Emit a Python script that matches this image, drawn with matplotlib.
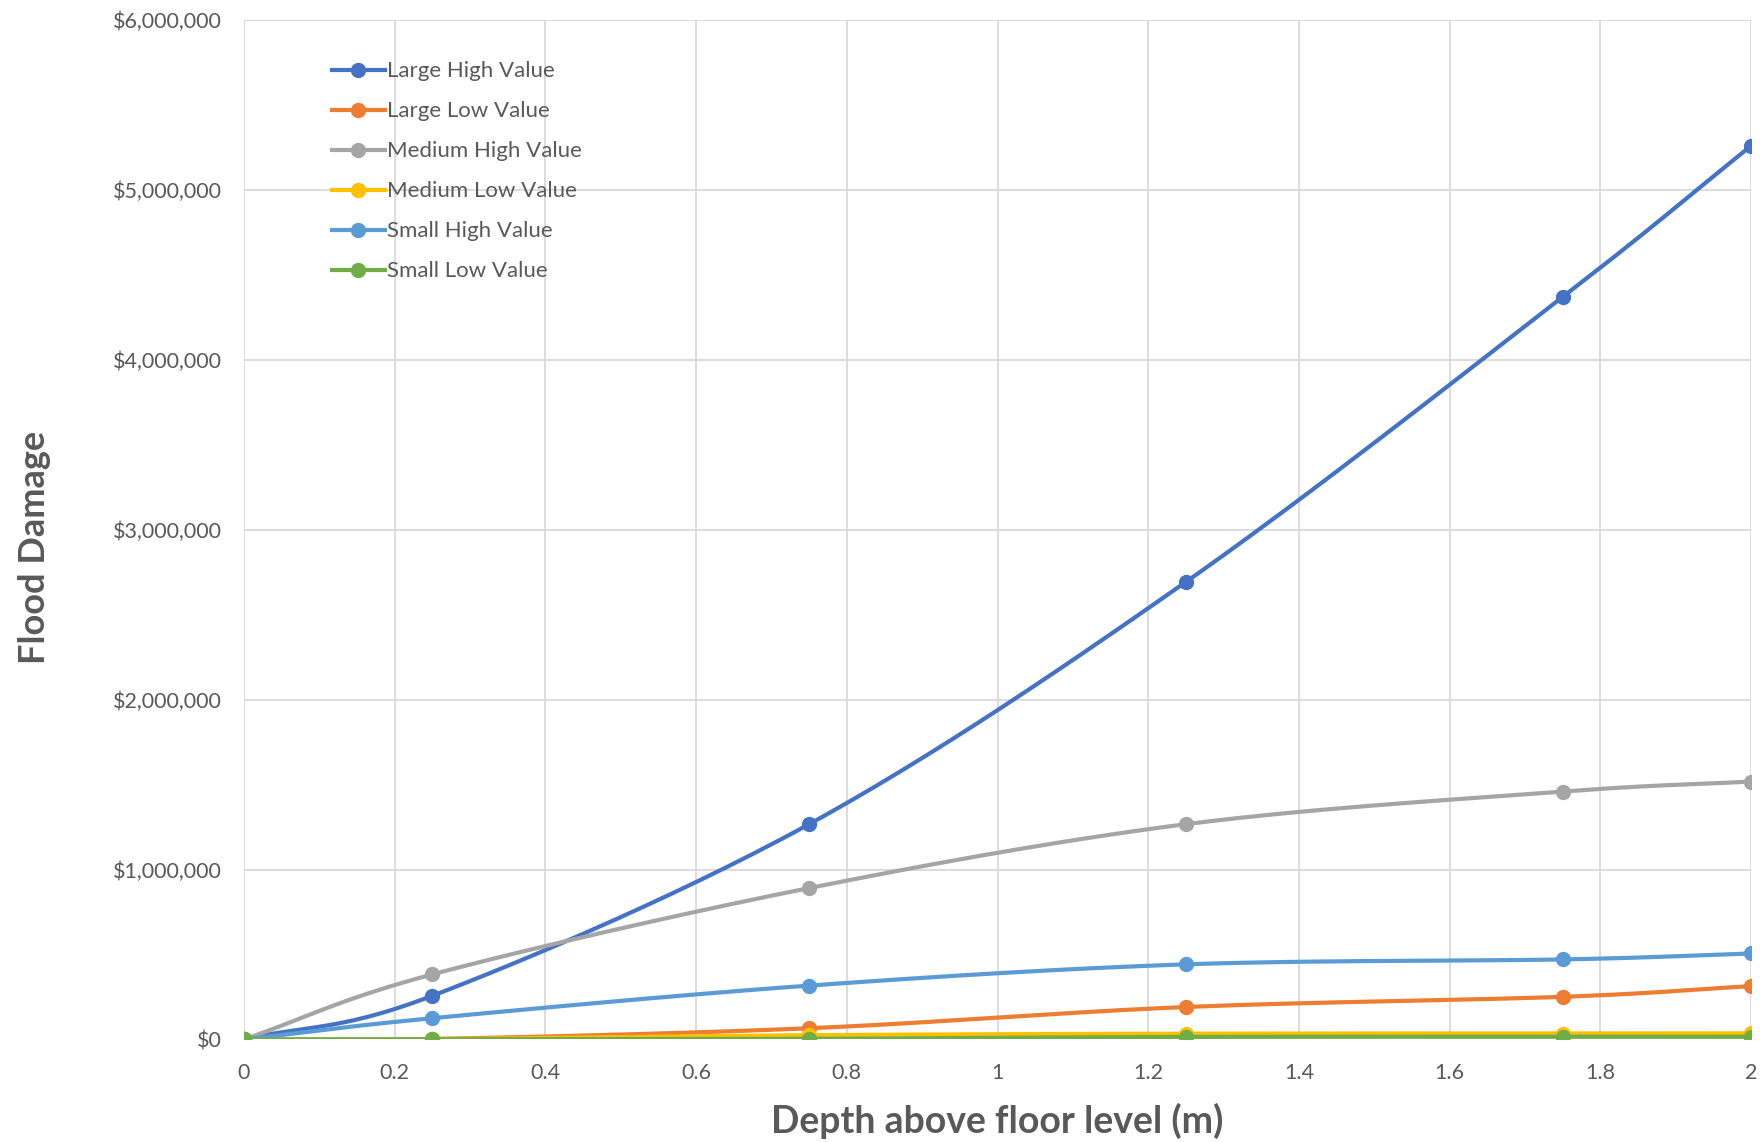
import numpy as np
import matplotlib
matplotlib.use("Agg")
import matplotlib.pyplot as plt
from matplotlib.ticker import FuncFormatter, MultipleLocator

# depths (m) and damages ($)
depth = [0, 0.25, 0.75, 1.25, 1.75, 2.0]
large_high = [0, 257000, 1267000, 2693000, 4370000, 5260000]
large_low = [0, 3000, 66000, 191000, 251000, 314000]
medium_high = [0, 383000, 891000, 1267000, 1459000, 1518000]
medium_low = [0, 2000, 25000, 34000, 35000, 36000]
small_high = [0, 125000, 317000, 442000, 471000, 506000]
small_low = [0, 1000, 4000, 15000, 16000, 16000]

series = [
    ("Large High Value", large_high, "#4472C4"),
    ("Large Low Value", large_low, "#ED7D31"),
    ("Medium High Value", medium_high, "#A5A5A5"),
    ("Medium Low Value", medium_low, "#FFC000"),
    ("Small High Value", small_high, "#5B9BD5"),
    ("Small Low Value", small_low, "#70AD47"),
]


def smooth(x, y, n=30):
    # catmull-rom style curve through the points, like Excel's smoothed lines
    x = np.asarray(x, float)
    y = np.asarray(y, float)
    px = np.concatenate([[2 * x[0] - x[1]], x, [2 * x[-1] - x[-2]]])
    py = np.concatenate([[2 * y[0] - y[1]], y, [2 * y[-1] - y[-2]]])
    xs, ys = [], []
    t = np.linspace(0, 1, n)
    for i in range(1, len(px) - 2):
        for arr, out in ((px, xs), (py, ys)):
            p0, p1, p2, p3 = arr[i - 1], arr[i], arr[i + 1], arr[i + 2]
            out.extend(0.5 * (2 * p1 + (-p0 + p2) * t + (2 * p0 - 5 * p1 + 4 * p2 - p3) * t ** 2
                              + (-p0 + 3 * p1 - 3 * p2 + p3) * t ** 3))
    return xs, ys


plt.rcParams["font.family"] = ["Lato", "DejaVu Sans"]
grey = "#595959"

fig = plt.figure(figsize=(17.6, 11.42), dpi=100)
ax = fig.add_axes([0.1386, 0.0898, 0.8564, 0.8927])

for name, vals, col in series:
    sx, sy = smooth(depth, vals)
    ax.plot(sx, sy, color=col, lw=3, solid_capstyle="round")
    ax.plot(depth, vals, "o", color=col, ms=10)
    ax.plot([], [], "-o", color=col, lw=3, ms=10, label=name)

ax.set_xlim(0, 2)
ax.set_ylim(0, 6000000)
ax.xaxis.set_major_locator(MultipleLocator(0.2))
ax.yaxis.set_major_locator(MultipleLocator(1000000))
ax.xaxis.set_major_formatter(FuncFormatter(lambda v, p: f"{v:g}"))
ax.yaxis.set_major_formatter(FuncFormatter(lambda v, p: f"${v:,.0f}"))
ax.grid(True, color="#d9d9d9", lw=1.3)
ax.set_axisbelow(True)
for s in ax.spines.values():
    s.set_visible(False)
ax.tick_params(length=0, labelsize=15.5, colors=grey)
ax.tick_params(axis="x", pad=17)
ax.tick_params(axis="y", pad=16)

ax.set_xlabel("Depth above floor level (m)", fontsize=27, fontweight="bold", color=grey, labelpad=14)
ax.set_ylabel("Flood Damage", fontsize=26, fontweight="bold", color=grey)
ax.yaxis.set_label_coords(-0.128, 0.483)

ax.legend(loc="upper left", bbox_to_anchor=(0.045, 0.979), frameon=False, fontsize=16,
          labelcolor=grey, handlelength=2.4, handletextpad=0.1, labelspacing=0.9)

fig.savefig("out.png", dpi=100)
